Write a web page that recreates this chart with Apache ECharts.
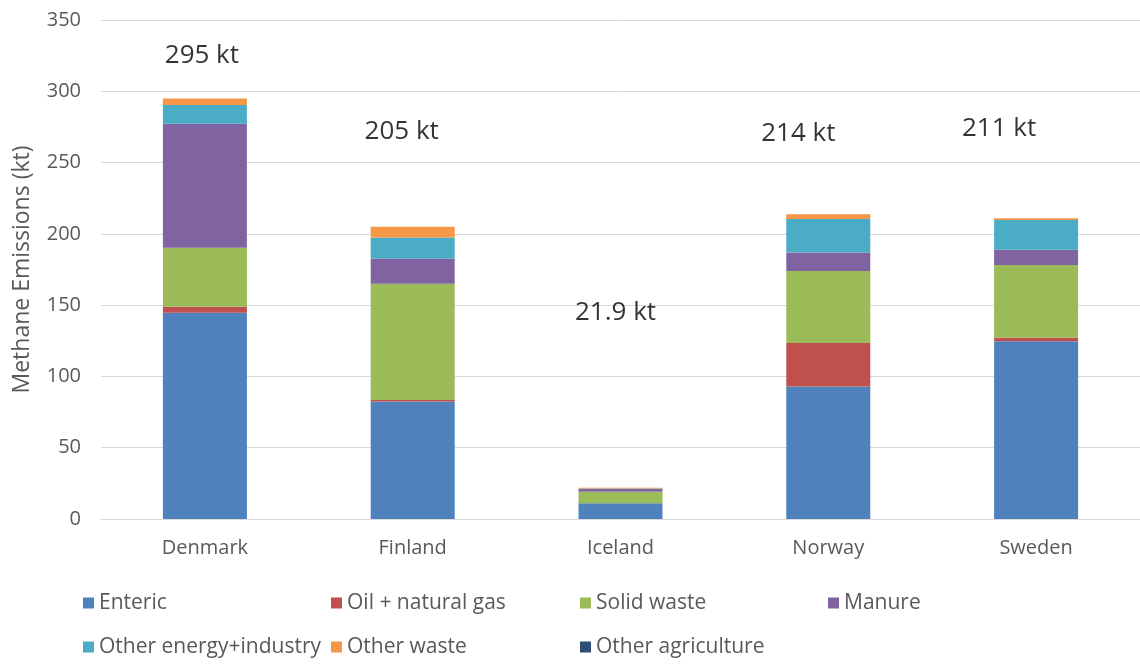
<!DOCTYPE html>
<html>
<head>
<meta charset="utf-8">
<script src="https://cdn.jsdelivr.net/npm/echarts@6/dist/echarts.min.js"></script>
<style>
html,body{margin:0;padding:0;background:#fff;}
#chart{width:1140px;height:664px;}
</style>
</head>
<body>
<div id="chart"></div>
<script>
// ---- data ----
const countries = ['Denmark', 'Finland', 'Iceland', 'Norway', 'Sweden'];
const enteric         = [144.7, 82.5, 11.0, 93.0, 124.6];
const oilGas          = [4.2, 1.0, 0.1, 30.5, 2.5];
const solidWaste      = [41.4, 81.5, 8.1, 50.4, 51.0];
const manure          = [86.9, 17.8, 1.9, 13.1, 10.7];
const otherEnergy     = [13.1, 14.7, 0.3, 23.4, 20.9];
const otherWaste      = [4.7, 7.5, 0.5, 3.3, 1.3];
const otherAgri       = [0, 0, 0, 0, 0];
const totalLabels     = ['295 kt', '205 kt', '21.9 kt', '214 kt', '211 kt'];
const labelHeights    = [325, 272, 144.5, 270, 273.5];
const yTicks          = [0, 50, 100, 150, 200, 250, 300, 350];

// ---- styles ----
const FONT = 'Open Sans';
const TXT = '#595959';
const seriesDefs = [
  {name: 'Enteric', data: enteric, color: '#4F81BD'},
  {name: 'Oil + natural gas', data: oilGas, color: '#C0504D'},
  {name: 'Solid waste', data: solidWaste, color: '#9BBB59'},
  {name: 'Manure', data: manure, color: '#8064A2'},
  {name: 'Other energy+industry', data: otherEnergy, color: '#4BACC6'},
  {name: 'Other waste', data: otherWaste, color: '#F79646'},
  {name: 'Other agriculture', data: otherAgri, color: '#2C4D75'}
];
const labelOffsets = [[-3, 0], [-11, 0], [-5, 0], [-30, 0], [-37, 0]];
const legendPos = [
  [83, 592], [331, 592], [580, 592], [828, 592],
  [83, 636], [331, 636], [580, 636]
];

const chart = echarts.init(document.getElementById('chart'));
const series = seriesDefs.map(s => ({
  name: s.name,
  type: 'bar',
  stack: 'total',
  barWidth: 84,
  itemStyle: {color: s.color},
  data: s.data
}));
series.push({
  name: 'totals',
  type: 'scatter',
  symbolSize: 0,
  silent: true,
  data: countries.map((c, i) => ({
    value: [i, labelHeights[i]],
    label: {offset: labelOffsets[i]}
  })),
  label: {
    show: true,
    position: 'inside',
    formatter: p => totalLabels[p.dataIndex],
    color: '#000',
    fontFamily: FONT,
    fontSize: 26
  }
});

const legends = seriesDefs.map((s, i) => ({
  data: [s.name],
  left: legendPos[i][0],
  top: legendPos[i][1],
  orient: 'horizontal',
  icon: 'rect',
  itemWidth: 11,
  itemHeight: 11,
  selectedMode: false,
  padding: 0,
  textStyle: {color: TXT, fontFamily: FONT, fontSize: 21, lineHeight: 22}
}));

chart.setOption({
  animation: false,
  backgroundColor: '#fff',
  grid: {left: 101, right: 0, top: 20, bottom: 145},
  legend: legends,
  xAxis: {
    type: 'category',
    data: countries,
    axisLine: {lineStyle: {color: '#D9D9D9', width: 1}},
    axisTick: {show: false},
    axisLabel: {color: TXT, fontFamily: FONT, fontSize: 20, margin: 19}
  },
  yAxis: {
    type: 'value',
    min: yTicks[0],
    max: yTicks[yTicks.length - 1],
    interval: 50,
    name: 'Methane Emissions (kt)',
    nameLocation: 'middle',
    nameGap: 67,
    nameTextStyle: {color: TXT, fontFamily: FONT, fontSize: 23},
    axisLine: {show: false},
    axisTick: {show: false},
    axisLabel: {color: TXT, fontFamily: FONT, fontSize: 20, margin: 20},
    splitLine: {lineStyle: {color: '#D9D9D9', width: 1}}
  },
  series: series
});
</script>
</body>
</html>
